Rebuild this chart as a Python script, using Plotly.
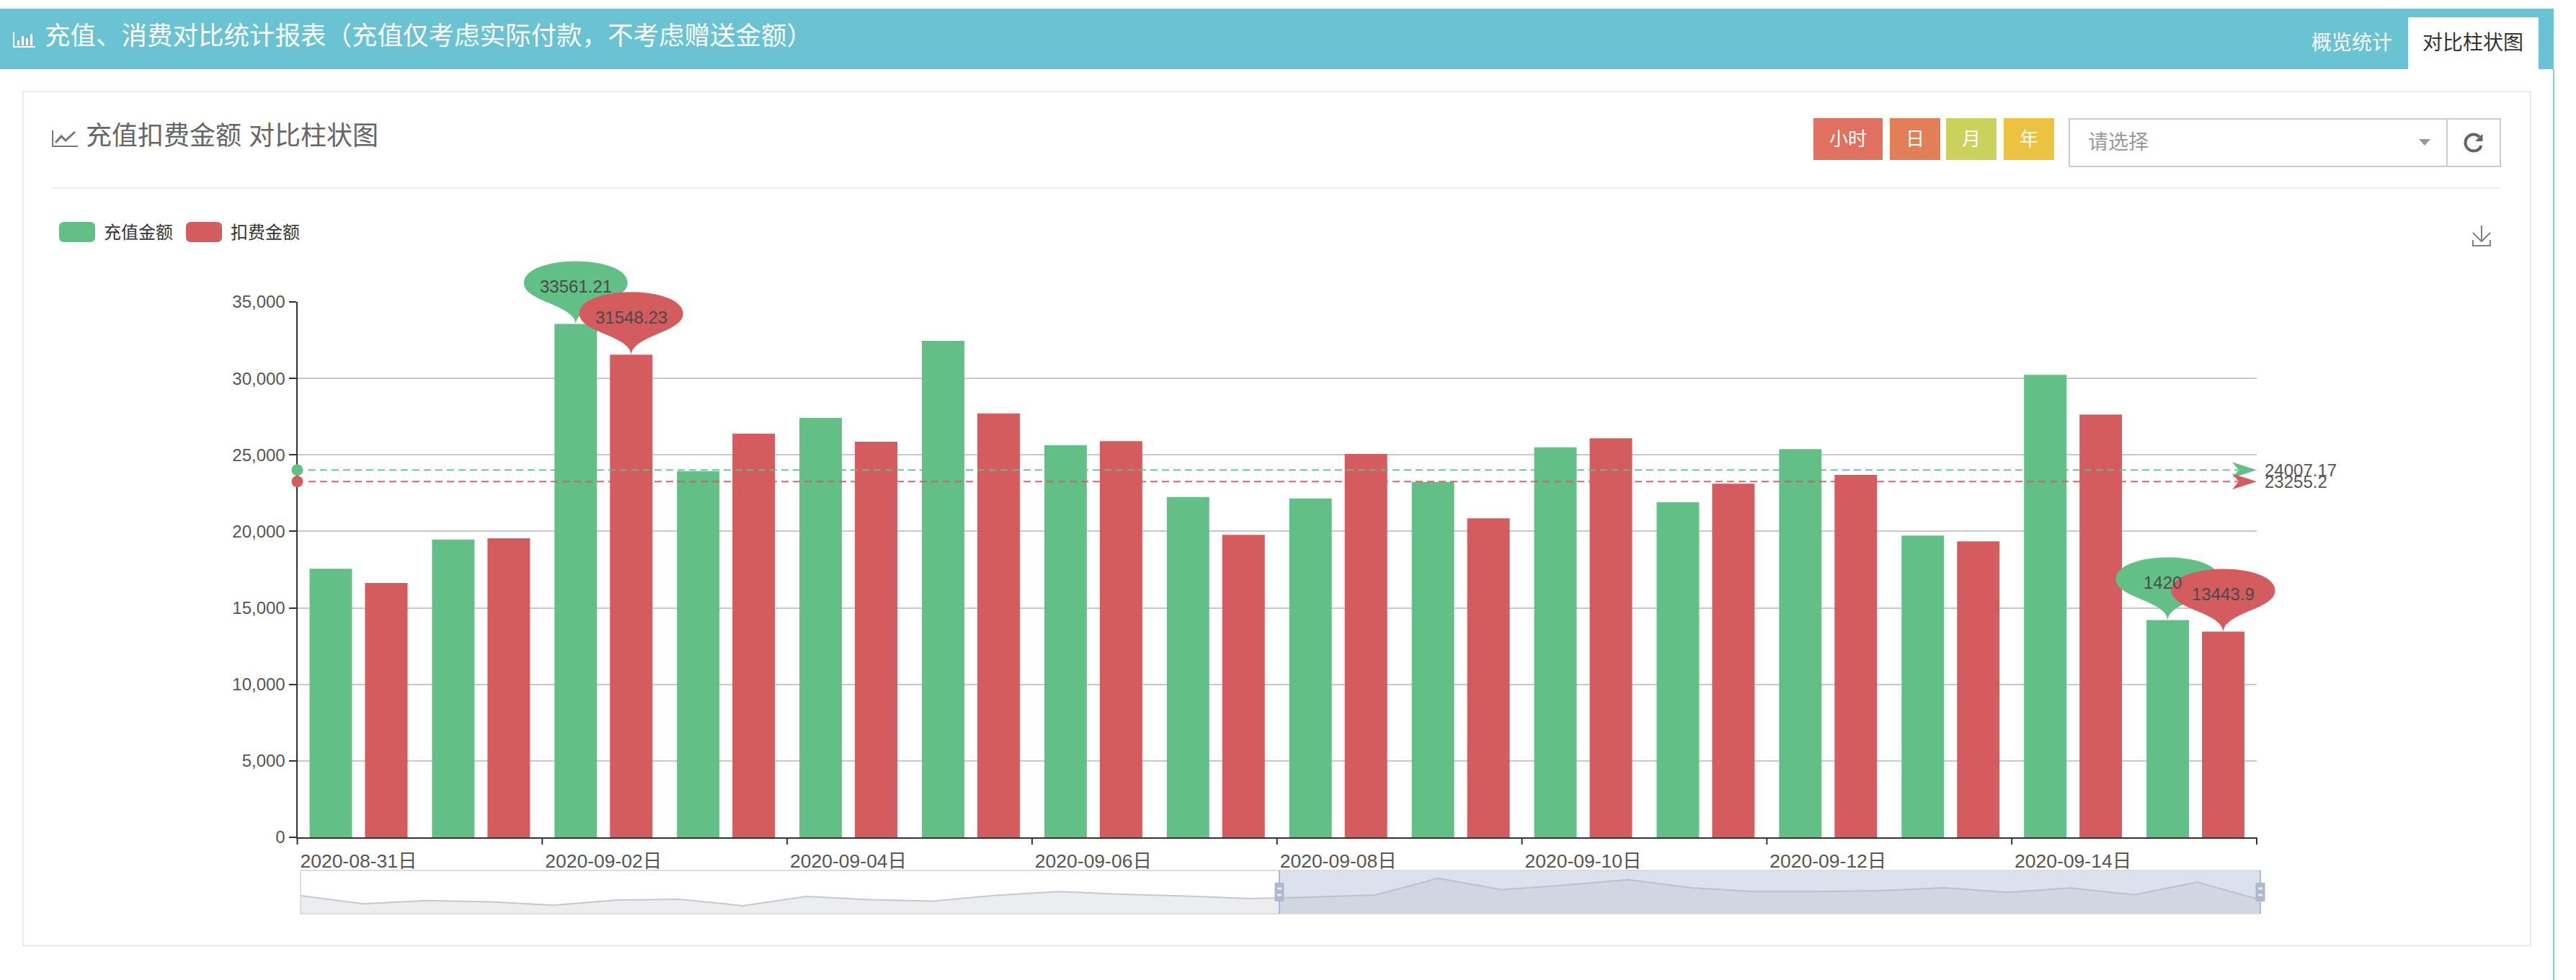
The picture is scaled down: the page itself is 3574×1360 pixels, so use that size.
import plotly.graph_objects as go

W, H = 3574, 1360

# ---------- data ----------
dates = ["2020-08-31日", "2020-09-01日", "2020-09-02日", "2020-09-03日", "2020-09-04日", "2020-09-05日",
         "2020-09-06日", "2020-09-07日", "2020-09-08日", "2020-09-09日", "2020-09-10日", "2020-09-11日",
         "2020-09-12日", "2020-09-13日", "2020-09-14日", "2020-09-15日"]
recharge_values = [17555, 19470, 33561.21, 23930, 27415, 32455, 25640, 22250,
                   22155, 23240, 25500, 21905, 25375, 19720, 30225, 14206]
deduct_values = [16628, 19549, 31548.23, 26395, 25861, 27713, 25893, 19770,
                 25060, 20853, 26082, 23115, 23694, 19346, 27637, 13443.9]
overview_values = [17600, 10340, 13200, 12100, 9020, 13640, 14300, 8580,
                   16940, 14080, 12760, 18040, 21340, 18920, 17380, 14960,
                   16280, 18260, 33440, 23100, 27280, 32120, 24860, 21340,
                   21340, 22220, 24860, 20680, 24640, 18480, 29920, 14080]
recharge_avg, deduct_avg = 24007.17, 23255.2
recharge_avg_label, deduct_avg_label = "24007.17", "23255.2"
y_ticks = [0, 5000, 10000, 15000, 20000, 25000, 30000, 35000]
series_names = ["充值金额", "扣费金额"]
pin_labels = [(2, 0, "33561.21"), (15, 0, "1420"), (2, 1, "31548.23"), (15, 1, "13443.9")]
page_title = "充值、消费对比统计报表（充值仅考虑实际付款，不考虑赠送金额）"
card_title = "充值扣费金额 对比柱状图"

# ---------- styles ----------
GREEN, RED = "#62c087", "#d45c5e"
TEAL = "#69c3d2"
FONT = "Liberation Sans, Noto Sans CJK SC, sans-serif"
SIDE = [-0.2265, 0.2265]
PLOT_L, PLOT_R, PLOT_T, PLOT_B = 412.5, 3131, 419, 1162
Y_MAX = 35000


def X(p):
    return p / W


def Y(p):
    return 1 - p / H


# shapes tied to the axes get clipped at the plot edge, so the ones that
# overhang it are anchored in paper space through the same axis mapping
def cat_x(pos):
    return X(PLOT_L + (pos + 0.5) / len(dates) * (PLOT_R - PLOT_L))


def val_y(v):
    return Y(PLOT_B - v / Y_MAX * (PLOT_B - PLOT_T))


def to_paper(path):
    out, is_x = [], True
    for t in path.split():
        if t.isalpha():
            out.append(t)
            is_x = True
        else:
            v = float(t)
            out.append(f"{X(v) if is_x else Y(v):.6f}")
            is_x = not is_x
    return " ".join(out)


shapes, notes = [], []


def rect(x0, y0, x1, y1, fill=None, line=None, lw=0, layer="below"):
    shapes.append(dict(type="rect", xref="paper", yref="paper", x0=X(x0), x1=X(x1), y0=Y(y0), y1=Y(y1),
                       fillcolor=fill or "rgba(0,0,0,0)", line=dict(color=line or "rgba(0,0,0,0)", width=lw),
                       layer=layer))


def seg(x0, y0, x1, y1, color, lw=2, layer="below"):
    shapes.append(dict(type="line", xref="paper", yref="paper", x0=X(x0), x1=X(x1), y0=Y(y0), y1=Y(y1),
                       line=dict(color=color, width=lw), layer=layer))


def path(d, fill=None, line=None, lw=0, layer="below"):
    shapes.append(dict(type="path", xref="paper", yref="paper", path=to_paper(d),
                       fillcolor=fill or "rgba(0,0,0,0)", line=dict(color=line or "rgba(0,0,0,0)", width=lw),
                       layer=layer))


def glyph(xa, ya, d, fill):
    shapes.append(dict(type="path", xref="paper", yref="paper", xsizemode="pixel", ysizemode="pixel",
                       xanchor=xa, yanchor=ya, path=d, fillcolor=fill, line=dict(width=0), layer="above"))


def text(x, y, s, size, color, anchor="left"):
    notes.append(dict(xref="paper", yref="paper", x=X(x), y=Y(y), text=s, showarrow=False, xanchor=anchor,
                      yanchor="middle", borderpad=0, font=dict(family=FONT, size=size, color=color)))


# ---------- page chrome ----------
rect(0, 12, 3543, 96, fill=TEAL)
seg(3543, 96, 3543, 1360, "#7fd0d8", 2)
rect(3341, 24, 3522, 96, fill="#ffffff")
text(61, 50.5, page_title, 35.5, "#ffffff")
text(3263, 60, "概览统计", 28, "#ffffff", "center")
text(3431, 60, "对比柱状图", 28, "#333333", "center")
path("M 19 44 L 19 65 L 49 65", line="#ffffff", lw=2)
for bx, top in [(24, 56), (30, 50), (36, 53), (42, 47)]:
    rect(bx, top, bx + 3, 63, fill="#ffffff")

rect(32, 127, 3511, 1312.5, fill="#ffffff", line="#e7ecf0", lw=2)
seg(72, 261, 3469, 261, "#eeeef0", 2)
path("M 73 181 L 73 203 L 108 203", line="#777777", lw=2)
path("M 77 198 L 85 189 L 91 195 L 104 183", line="#777777", lw=3)
text(118, 189, card_title, 36, "#666666")

for x0, x1, c, s in [(2516, 2612, "#e07060", "小时"), (2622, 2692, "#e27f58", "日"),
                     (2700, 2770, "#cbd25c", "月"), (2780, 2850, "#ebc340", "年")]:
    rect(x0, 164, x1, 222, fill=c)
    text((x0 + x1) / 2, 193, s, 26, "#ffffff", "center")

rect(2871, 165, 3395, 231, fill="#ffffff", line="#c5cadb", lw=2)
rect(3395, 165, 3469, 231, fill="#ffffff", line="#cccccc", lw=2)
text(2896, 197, "请选择", 28, "#999999")
path("M 3356 193 L 3372 193 L 3364 202 Z", fill="#999999")
path("M 3440 190 C 3437 187 3435 186.5 3432 186.5 C 3425.6 186.5 3420.5 191.6 3420.5 198 "
     "C 3420.5 204.4 3425.6 209.5 3432 209.5 C 3437 209.5 3441 206.5 3442.5 202", line="#666666", lw=4)
path("M 3444 186.7 L 3444 195.5 L 3435 195.5 Z", fill="#666666", line="#666666", lw=1)
path("M 3443 313 L 3443 335 M 3431 323 L 3443 335 L 3455 323 M 3431 333 L 3431 341 L 3455 341 L 3455 333",
     line="#808080", lw=2)


def round_box(x0, y0, x1, y1, r, fill):
    path(f"M {x0 + r} {y0} L {x1 - r} {y0} Q {x1} {y0} {x1} {y0 + r} L {x1} {y1 - r} Q {x1} {y1} {x1 - r} {y1} "
         f"L {x0 + r} {y1} Q {x0} {y1} {x0} {y1 - r} L {x0} {y0 + r} Q {x0} {y0} {x0 + r} {y0} Z", fill=fill)


round_box(82, 308, 132, 336, 7, GREEN)
round_box(258, 308, 308, 336, 7, RED)
text(143, 322, series_names[0], 24, "#333333")
text(319, 322, series_names[1], 24, "#333333")

# ---------- chart ----------
fig = go.Figure()
fig.add_bar(x=dates, y=recharge_values, name=series_names[0], marker=dict(color=GREEN, line_width=0),
            xaxis="x", yaxis="y", showlegend=False)
fig.add_bar(x=dates, y=deduct_values, name=series_names[1], marker=dict(color=RED, line_width=0),
            xaxis="x", yaxis="y", showlegend=False)
fig.add_scatter(x=list(range(len(overview_values))), y=overview_values, mode="lines", fill="tozeroy",
                fillcolor="#ecedef", line=dict(color="#c4c9d0", width=2), xaxis="x2", yaxis="y2",
                showlegend=False, hoverinfo="skip")

# boundary ticks of the category axis
for i in range(0, len(dates) + 1, 2):
    shapes.append(dict(type="line", xref="paper", yref="paper", x0=cat_x(i - 0.5), x1=cat_x(i - 0.5),
                       ysizemode="pixel", yanchor=val_y(0), y0=0, y1=-10,
                       line=dict(color="#333333", width=2), layer="above"))

# average mark lines
for value, color, label in [(recharge_avg, GREEN, recharge_avg_label), (deduct_avg, RED, deduct_avg_label)]:
    shapes.append(dict(type="line", xref="paper", yref="paper", x0=X(428), x1=X(3105), y0=val_y(value),
                       y1=val_y(value), line=dict(color=color, width=2, dash="10px,6px"), opacity=0.9,
                       layer="above"))
    glyph(X(PLOT_R), val_y(value), "M 0 0 L -34 11 L -25 0 L -34 -11 Z", color)
    glyph(X(PLOT_L), val_y(value),
          "M -8 0 C -8 4.4 -4.4 8 0 8 C 4.4 8 8 4.4 8 0 C 8 -4.4 4.4 -8 0 -8 C -4.4 -8 -8 -4.4 -8 0 Z", color)
    notes.append(dict(xref="paper", yref="paper", x=X(PLOT_R), y=val_y(value), xshift=9, text=label,
                      showarrow=False, xanchor="left", yanchor="middle",
                      font=dict(family=FONT, size=24, color="#555555")))

# pin markers on max and min bars
PIN = ("M 0 0 C -1 10 -10 17 -30 26 C -55 36 -72 44 -72 57 C -72 75 -40 87 0 87 "
       "C 40 87 72 75 72 57 C 72 44 55 36 30 26 C 10 17 1 10 0 0 Z")
for i, s, label in pin_labels:
    v = (recharge_values if s == 0 else deduct_values)[i]
    glyph(cat_x(i + SIDE[s]), val_y(v), PIN, [GREEN, RED][s])
    shift = -7 if label == "1420" else 0   # the last digit sits behind the neighbouring pin
    notes.append(dict(xref="paper", yref="paper", x=cat_x(i + SIDE[s]), y=val_y(v), yshift=52, xshift=shift,
                      text=label, showarrow=False, xanchor="center", yanchor="middle",
                      font=dict(family=FONT, size=24, color="#4a4a4a")))

# overview strip
rect(417, 1208, 3136, 1268, line="#dddddd", lw=2, layer="above")
rect(1775, 1209, 3136, 1267, fill="rgba(167,183,204,0.4)", layer="above")
for hx in (1775, 3136):
    seg(hx, 1208, hx, 1268, "#aeb9d0", 2, "above")
    rect(hx - 6.5, 1225, hx + 6.5, 1251, fill="#aeb9d0", layer="above")
    for hy in (1233, 1242):
        rect(hx - 3, hy - 1.5, hx + 3, hy + 1.5, fill="#e8ecf3", layer="above")

fig.update_layout(
    width=W, height=H, margin=dict(l=0, r=0, t=0, b=0, autoexpand=False), paper_bgcolor="#ffffff",
    plot_bgcolor="rgba(0,0,0,0)",
    barmode="group", bargap=0.094, bargroupgap=0.234, showlegend=False, shapes=shapes, annotations=notes,
    font=dict(family=FONT, size=24, color="#555555"),
    xaxis=dict(domain=[X(PLOT_L), X(PLOT_R)], type="category", categoryorder="array", categoryarray=dates,
               range=[-0.5, 15.5], dtick=2, ticks="outside", ticklen=6, tickcolor="rgba(0,0,0,0)",
               showgrid=False, showline=True, linecolor="#333333", linewidth=2, zeroline=False, automargin=False,
               tickfont=dict(family=FONT, size=26.5, color="#555555"), ticklabelstandoff=2, anchor="y"),
    yaxis=dict(domain=[Y(PLOT_B), Y(PLOT_T)], range=[0, Y_MAX], tickvals=y_ticks, tickformat=",", ticks="outside",
               ticklen=10, tickwidth=2, tickcolor="#333333", showline=True, linecolor="#333333", linewidth=2,
               gridcolor="#c8c8c8", gridwidth=2, zeroline=False, automargin=False,
               tickfont=dict(family=FONT, size=24, color="#555555"), anchor="x"),
    xaxis2=dict(domain=[X(417), X(3136)], range=[0, 31], visible=False, anchor="y2", automargin=False),
    yaxis2=dict(domain=[Y(1268), Y(1208)], range=[1320, 40480], visible=False, anchor="x2", automargin=False),
)

fig.write_html("out.html", config=dict(displayModeBar=False, responsive=False),
               post_script="document.body.style.margin='0';document.body.style.overflow='hidden';")
